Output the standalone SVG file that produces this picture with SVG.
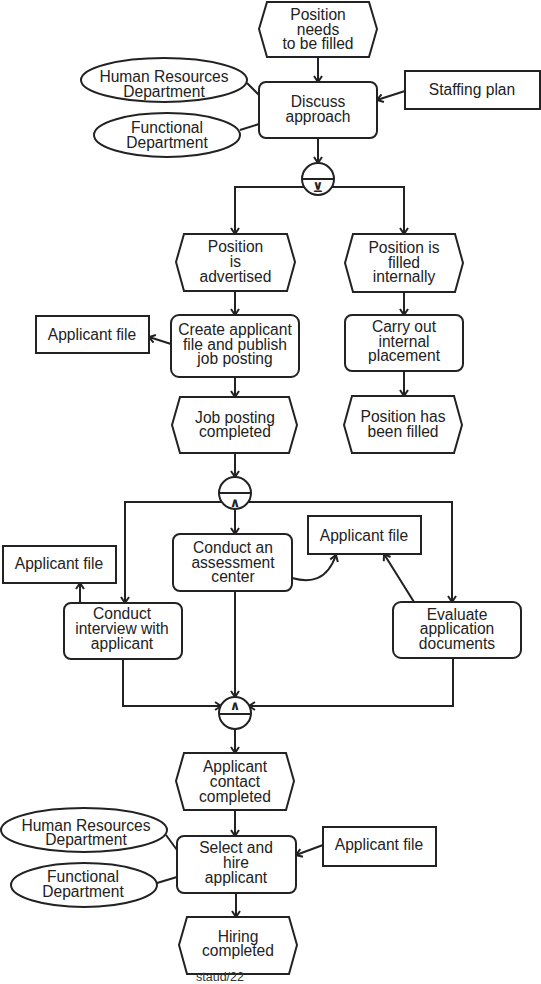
<svg xmlns="http://www.w3.org/2000/svg" width="541" height="984" viewBox="0 0 541 984">
<defs>
<style>
.s{fill:#fff;stroke:#222;stroke-width:2}
.t{font-family:"Liberation Sans",Arial,sans-serif;font-size:15.6px;fill:#222;text-anchor:middle}
.c{fill:none;stroke:#222;stroke-width:2}
.g{font-family:"DejaVu Sans",sans-serif;font-size:13px;fill:#222;text-anchor:middle;font-weight:bold}
</style>
<marker id="a" markerUnits="userSpaceOnUse" markerWidth="10" markerHeight="10" viewBox="0 0 10 10" refX="9" refY="5" orient="auto">
<path d="M3,1 L9,5 L3,9" fill="none" stroke="#222" stroke-width="2"/>
</marker>
</defs>
<rect width="541" height="984" fill="#fff"/>

<g id="connectors" class="c">
<path d="M318,57 L318,82" marker-end="url(#a)"/>
<path d="M247,83 L259,95"/>
<path d="M240,130 L259,124"/>
<path d="M405,91 L377,100" marker-end="url(#a)"/>
<path d="M318,138 L318,163" marker-end="url(#a)"/>
<path d="M305,187 L235,187 L235,234" marker-end="url(#a)"/>
<path d="M331,187 L404,187 L404,234" marker-end="url(#a)"/>
<path d="M235,291 L235,315" marker-end="url(#a)"/>
<path d="M171,344 L149,337" marker-end="url(#a)"/>
<path d="M235,377 L235,397" marker-end="url(#a)"/>
<path d="M404,292 L404,315" marker-end="url(#a)"/>
<path d="M404,371 L404,396" marker-end="url(#a)"/>
<path d="M235,453 L235,477" marker-end="url(#a)"/>
<path d="M222,502 L125,502 L125,603" marker-end="url(#a)"/>
<path d="M248,502 L452,502 L452,602" marker-end="url(#a)"/>
<path d="M235,509 L235,534" marker-end="url(#a)"/>
<path d="M292,578 C310,583 327,581 336,555" marker-end="url(#a)"/>
<path d="M80,603 L80,583" marker-end="url(#a)"/>
<path d="M414,602 L384,554" marker-end="url(#a)"/>
<path d="M123,659 L123,706 L221,706" marker-end="url(#a)"/>
<path d="M235,591 L235,697" marker-end="url(#a)"/>
<path d="M453,658 L453,706 L249,706" marker-end="url(#a)"/>
<path d="M235,729 L235,753" marker-end="url(#a)"/>
<path d="M235,810 L235,836" marker-end="url(#a)"/>
<path d="M166,835 L177,850"/>
<path d="M157,883 L177,877"/>
<path d="M323,845 L296,855" marker-end="url(#a)"/>
<path d="M236,893 L236,917" marker-end="url(#a)"/>
</g>

<g id="e1"><path class="s" d="M259,29 L267,2 L369,2 L377,29 L369,57 L267,57 Z"/>
<text class="t" x="318" y="20">Position</text><text class="t" x="318" y="35">needs</text><text class="t" x="318" y="49">to be filled</text></g>

<g id="f1"><rect class="s" x="259" y="82" width="118" height="56" rx="7"/>
<text class="t" x="318" y="107">Discuss</text><text class="t" x="318" y="122">approach</text></g>

<g id="hr1"><ellipse class="s" cx="164" cy="80" rx="83" ry="22"/>
<text class="t" x="164" y="82">Human Resources</text><text class="t" x="164" y="97">Department</text></g>

<g id="fd1"><ellipse class="s" cx="167" cy="135" rx="73" ry="22"/>
<text class="t" x="167" y="133">Functional</text><text class="t" x="167" y="148">Department</text></g>

<g id="sp"><rect class="s" x="405" y="71" width="135" height="38"/>
<text class="t" x="472" y="95">Staffing plan</text></g>

<g id="xor1"><circle class="s" cx="318" cy="179" r="16"/><path class="c" d="M302,179 L334,179"/>
<text class="g" x="318" y="192">⊻</text></g>

<g id="e2"><path class="s" d="M176,262 L184,234 L287,234 L295,262 L287,291 L184,291 Z"/>
<text class="t" x="235.5" y="252">Position</text><text class="t" x="235.5" y="267">is</text><text class="t" x="235.5" y="282">advertised</text></g>

<g id="e3"><path class="s" d="M345,263 L353,234 L455,234 L463,263 L455,292 L353,292 Z"/>
<text class="t" x="404" y="253">Position is</text><text class="t" x="404" y="268">filled</text><text class="t" x="404" y="282">internally</text></g>

<g id="f2"><rect class="s" x="171" y="315" width="128" height="62" rx="8"/>
<text class="t" x="235" y="335">Create applicant</text><text class="t" x="235" y="350">file and publish</text><text class="t" x="235" y="364">job posting</text></g>

<g id="af1"><rect class="s" x="36" y="316" width="113" height="37"/>
<text class="t" x="92" y="340">Applicant file</text></g>

<g id="f3"><rect class="s" x="345" y="315" width="118" height="56" rx="7"/>
<text class="t" x="404" y="332">Carry out</text><text class="t" x="404" y="347">internal</text><text class="t" x="404" y="361">placement</text></g>

<g id="e4"><path class="s" d="M172,425 L180,397 L289,397 L297,425 L289,453 L180,453 Z"/>
<text class="t" x="235" y="423">Job posting</text><text class="t" x="235" y="437">completed</text></g>

<g id="e5"><path class="s" d="M344,425 L352,396 L454,396 L462,425 L454,453 L352,453 Z"/>
<text class="t" x="403" y="422">Position has</text><text class="t" x="403" y="437">been filled</text></g>

<g id="and1"><circle class="s" cx="235" cy="493" r="16"/><path class="c" d="M219,493 L251,493"/>
<text class="g" x="235" y="507">∧</text></g>

<g id="f4"><rect class="s" x="173" y="534" width="119" height="57" rx="7"/>
<text class="t" x="233" y="553">Conduct an</text><text class="t" x="233" y="568">assessment</text><text class="t" x="233" y="582">center</text></g>

<g id="af2"><rect class="s" x="308" y="516" width="113" height="38"/>
<text class="t" x="364" y="541">Applicant file</text></g>

<g id="f5"><rect class="s" x="64" y="603" width="118" height="56" rx="7"/>
<text class="t" x="122" y="619">Conduct</text><text class="t" x="122" y="634">interview with</text><text class="t" x="122" y="649">applicant</text></g>

<g id="af3"><rect class="s" x="3" y="546" width="113" height="37"/>
<text class="t" x="59" y="569">Applicant file</text></g>

<g id="f6"><rect class="s" x="393" y="602" width="128" height="56" rx="8"/>
<text class="t" x="457" y="620">Evaluate</text><text class="t" x="457" y="634">application</text><text class="t" x="457" y="649">documents</text></g>

<g id="and2"><circle class="s" cx="235" cy="713" r="16"/><path class="c" d="M219,714 L251,714"/>
<text class="g" x="235" y="710">∧</text></g>

<g id="e6"><path class="s" d="M176,781 L184,753 L286,753 L294,781 L286,810 L184,810 Z"/>
<text class="t" x="235" y="772">Applicant</text><text class="t" x="235" y="787">contact</text><text class="t" x="235" y="802">completed</text></g>

<g id="f7"><rect class="s" x="177" y="836" width="119" height="57" rx="7"/>
<text class="t" x="236" y="853">Select and</text><text class="t" x="236" y="868">hire</text><text class="t" x="236" y="883">applicant</text></g>

<g id="hr2"><ellipse class="s" cx="84" cy="830" rx="83" ry="22"/>
<text class="t" x="86" y="831">Human Resources</text><text class="t" x="86" y="845">Department</text></g>

<g id="fd2"><ellipse class="s" cx="84" cy="885" rx="73" ry="22"/>
<text class="t" x="83" y="882">Functional</text><text class="t" x="83" y="897">Department</text></g>

<g id="af4"><rect class="s" x="323" y="827" width="113" height="39"/>
<text class="t" x="379" y="850">Applicant file</text></g>

<g id="e7"><path class="s" d="M179,945 L187,917 L289,917 L297,945 L289,974 L187,974 Z"/>
<text class="t" x="238" y="942">Hiring</text><text class="t" x="238" y="956">completed</text></g>

<text x="220" y="981" font-family="Liberation Sans, Arial, sans-serif" font-size="12.5" fill="#333" text-anchor="middle">staud/22</text>
</svg>
